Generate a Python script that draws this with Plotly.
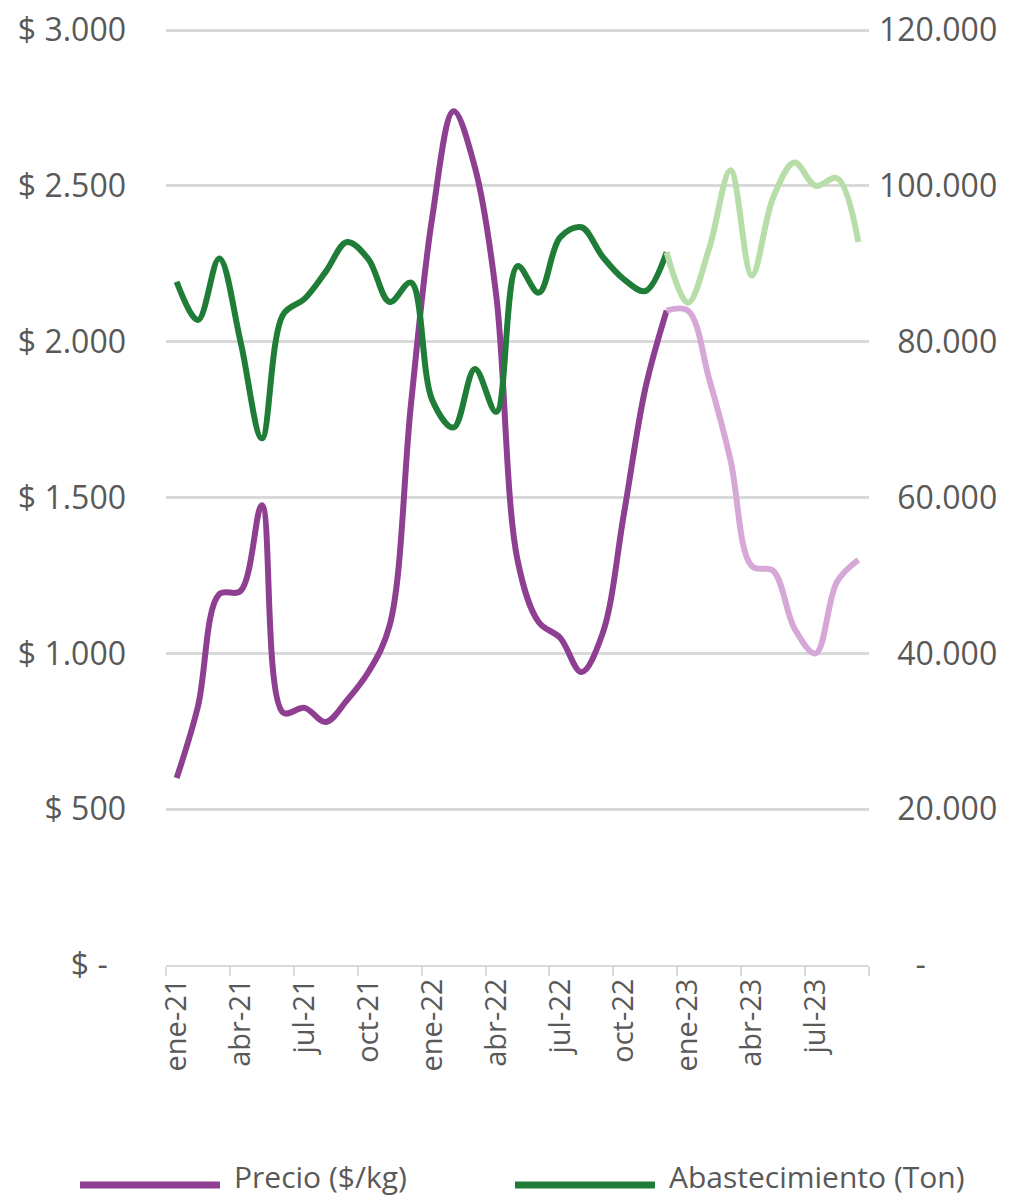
import plotly.graph_objects as go

# ---- data ----
meses = ["ene-21", "feb-21", "mar-21", "abr-21", "may-21", "jun-21", "jul-21", "ago-21", "sep-21",
         "oct-21", "nov-21", "dic-21", "ene-22", "feb-22", "mar-22", "abr-22", "may-22", "jun-22",
         "jul-22", "ago-22", "sep-22", "oct-22", "nov-22", "dic-22", "ene-23", "feb-23", "mar-23",
         "abr-23", "may-23", "jun-23", "jul-23", "ago-23", "sep-23"]
precio = [600, 830, 1190, 1200, 1475, 810, 825, 780, 850, 940, 1090, 1800, 2400, 2740, 2560, 2150,
          1300, 1100, 1050, 940, 1065, 1450, 1850, 2100, 2100, 1880, 1620, 1280, 1265, 1080, 1000,
          1230, 1300]
abastecimiento = [87700, 82800, 90700, 80000, 67600, 83500, 85500, 89000, 92800, 90600, 85100, 87600,
                  72500, 69000, 76500, 71000, 89700, 86300, 93400, 94700, 90900, 88000, 86500, 91500,
                  85000, 92000, 102000, 88500, 98500, 103000, 100000, 101000, 92800]
corte = 23  # dic-22: last month of the dark segment
etiquetas_x = ["ene-21", "abr-21", "jul-21", "oct-21", "ene-22", "abr-22", "jul-22", "oct-22",
               "ene-23", "abr-23", "jul-23"]
ticks_izq = [0, 500, 1000, 1500, 2000, 2500, 3000]
texto_izq = ["$ -\u2007", "$ 500", "$ 1.000", "$ 1.500", "$ 2.000", "$ 2.500", "$ 3.000"]
ticks_der = [0, 20000, 40000, 60000, 80000, 100000, 120000]
texto_der = ["\u2007\u2007-", "\u200720.000", "\u200740.000", "\u200760.000", "\u200780.000",
             "100.000", "120.000"]

MORADO = "#8E3F92"
MORADO_CLARO = "#D6A8D8"
VERDE = "#1F7D38"
VERDE_CLARO = "#B7DDA8"
GRIS = "#595959"
GRID = "#D9D9D9"
FONT = "Open Sans"

x = list(range(len(meses)))
idx_lbl = [meses.index(m) for m in etiquetas_x]

fig = go.Figure()
fig.add_trace(go.Scatter(x=x[:corte + 1], y=precio[:corte + 1], mode="lines", name="Precio ($/kg)",
                         line=dict(color=MORADO, width=6, shape="spline", smoothing=1),
                         yaxis="y", showlegend=False, text=meses[:corte + 1]))
fig.add_trace(go.Scatter(x=x[corte:], y=precio[corte:], mode="lines", name="Precio ($/kg) proyección",
                         line=dict(color=MORADO_CLARO, width=6, shape="spline", smoothing=1),
                         yaxis="y", showlegend=False, text=meses[corte:]))
fig.add_trace(go.Scatter(x=x[:corte + 1], y=abastecimiento[:corte + 1], mode="lines",
                         name="Abastecimiento (Ton)",
                         line=dict(color=VERDE, width=6, shape="spline", smoothing=1),
                         yaxis="y2", showlegend=False, text=meses[:corte + 1]))
fig.add_trace(go.Scatter(x=x[corte:], y=abastecimiento[corte:], mode="lines",
                         name="Abastecimiento (Ton) proyección",
                         line=dict(color=VERDE_CLARO, width=6, shape="spline", smoothing=1),
                         yaxis="y2", showlegend=False, text=meses[corte:]))

# page body has an 8px margin: figure placed at (8, 8)
fig.update_layout(
    width=1028, height=1192,
    paper_bgcolor="white", plot_bgcolor="white",
    margin=dict(l=158, r=167, t=19, b=235, autoexpand=False),
    font=dict(family=FONT, color=GRIS, size=30),
    showlegend=False,
    xaxis=dict(
        range=[-0.5, len(meses) - 0.5], automargin=False,
        tickvals=idx_lbl, ticktext=etiquetas_x, tickangle=-90,
        ticks="", showgrid=False, zeroline=False,
        showline=True, linecolor=GRID, linewidth=2,
        tickfont=dict(size=29, color=GRIS, family=FONT),
        minor=dict(tickvals=[i - 0.5 for i in range(0, len(meses) + 1, 3)],
                   ticks="outside", ticklen=9, tickcolor=GRID, tickwidth=2, showgrid=False),
    ),
    yaxis=dict(
        range=[0, 3010], tickvals=ticks_izq, ticktext=texto_izq, automargin=False,
        showgrid=True, gridcolor=GRID, gridwidth=2.5, zeroline=False, showline=False,
        ticks="", tickfont=dict(size=32, color=GRIS, family=FONT), ticklabelstandoff=39,
        ticklabeloverflow="allow",
    ),
    yaxis2=dict(
        range=[0, 120400], tickvals=ticks_der, ticktext=texto_der, overlaying="y", side="right",
        showgrid=False, zeroline=False, showline=False, ticks="", automargin=False,
        tickfont=dict(size=32, color=GRIS, family=FONT), ticklabelstandoff=9,
        ticklabeloverflow="allow",
    ),
)

# manual legend (long line samples, as in the reference)
ly = -0.2345
ty = -0.2494
fig.add_shape(type="line", xref="paper", yref="paper", x0=-0.1223, x1=0.0768, y0=ly, y1=ly,
              line=dict(color=MORADO, width=7))
fig.add_annotation(xref="paper", yref="paper", x=0.0939, y=ty, text="Precio ($/kg)",
                   showarrow=False, xanchor="left", yanchor="bottom",
                   font=dict(size=30, color=GRIS, family=FONT))
fig.add_shape(type="line", xref="paper", yref="paper", x0=0.4964, x1=0.6956, y0=ly, y1=ly,
              line=dict(color=VERDE, width=7))
fig.add_annotation(xref="paper", yref="paper", x=0.7127, y=ty, text="Abastecimiento (Ton)",
                   showarrow=False, xanchor="left", yanchor="bottom",
                   font=dict(size=30, color=GRIS, family=FONT))

fig.write_html("out.html")
